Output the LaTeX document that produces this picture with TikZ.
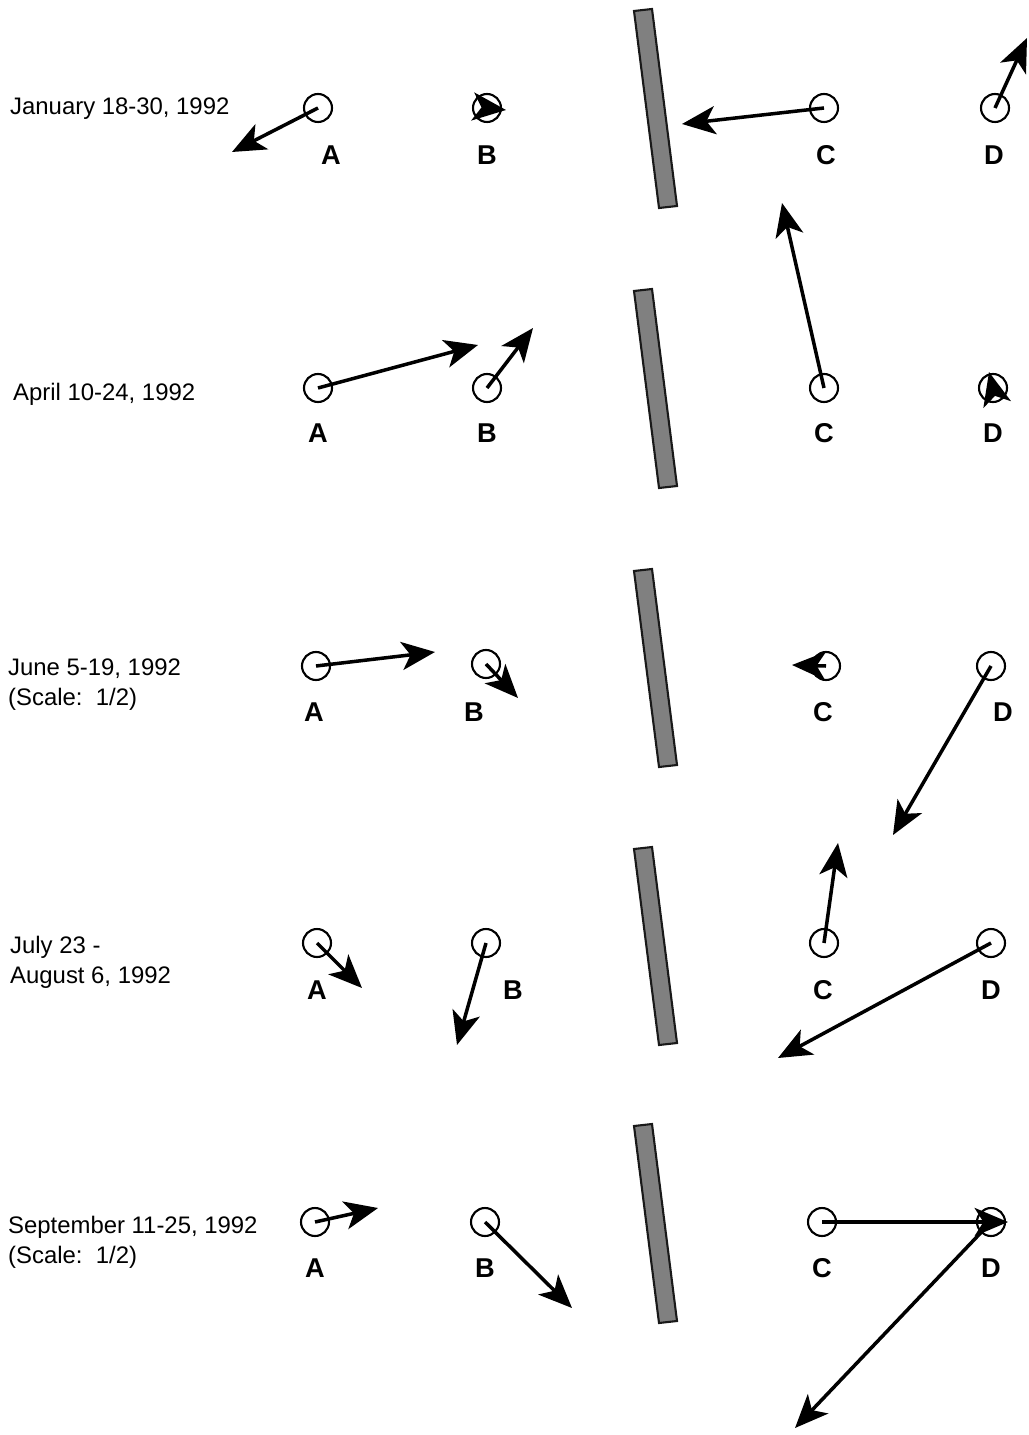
\documentclass[tikz,border=0pt]{standalone}
\usepackage{fontspec}
\setmainfont{Liberation Sans}
\usetikzlibrary{arrows.meta}

\tikzset{
  station/.style={circle, draw, line width=1.2pt, minimum size=0.56cm, inner sep=0pt},
  stname/.style={font=\fontsize{15.5}{17}\selectfont\bfseries},
  datelabel/.style={anchor=west, align=left, font=\fontsize{13.6}{17}\selectfont},
  current/.style={line width=2pt, -{Stealth[length=19pt,width=16pt,inset=5pt]}},
  wall/.style={fill=black!50, draw=black!90, line width=1.2pt}
}

\begin{document}
\begin{tikzpicture}[x=0.02cm, y=-0.02cm]
\useasboundingbox (0,0) rectangle (1028,1435);

% January
\node [datelabel] (t1) at (4,109) {January 18-30, 1992};
\draw [wall] (634,11) -- (652,9) -- (677,206) -- (659,208) -- cycle;
\node [station] (a1) at (318,108) {};
\node [stname] (la1) at (331,155) {A};
\node [station] (b1) at (487,108) {};
\node [stname] (lb1) at (487,155) {B};
\node [station] (c1) at (824,108) {};
\node [stname] (lc1) at (826,155) {C};
\node [station] (d1) at (995,108) {};
\node [stname] (ld1) at (994,155) {D};
\coordinate (a1tip) at (232,152);
\coordinate (b1tip) at (506,110);
\coordinate (c1tip) at (682,124);
\coordinate (d1tip) at (1027,38);
\draw [current] (a1.center) -- (a1tip);
\draw [current] (b1.center) -- (b1tip);
\draw [current] (c1.center) -- (c1tip);
\draw [current] (d1.center) -- (d1tip);

% April
\node [datelabel] (t2) at (7,394) {April 10-24, 1992};
\draw [wall] (634,291) -- (652,289) -- (677,486) -- (659,488) -- cycle;
\node [station] (a2) at (318,388) {};
\node [stname] (la2) at (318,433) {A};
\node [station] (b2) at (487,388) {};
\node [stname] (lb2) at (487,433) {B};
\node [station] (c2) at (824,388) {};
\node [stname] (lc2) at (824,433) {C};
\node [station] (d2) at (993,388) {};
\node [stname] (ld2) at (993,433) {D};
\coordinate (a2tip) at (478,345);
\coordinate (b2tip) at (533,328);
\coordinate (c2tip) at (782,203);
\coordinate (d2tip) at (989,372);
\draw [current] (a2.center) -- (a2tip);
\draw [current] (b2.center) -- (b2tip);
\draw [current] (c2.center) -- (c2tip);
\draw [current] (d2.center) -- (d2tip);

% June
\node [datelabel] (t3) at (2,685) {June 5-19, 1992\\(Scale:~~1/2)};
\draw [wall] (634,571) -- (652,569) -- (677,765) -- (659,767) -- cycle;
\node [station] (a3) at (316,666) {};
\node [stname] (la3) at (314,712) {A};
\node [station] (b3) at (486,664) {};
\node [stname] (lb3) at (474,712) {B};
\node [station] (c3) at (826,666) {};
\node [stname] (lc3) at (823,712) {C};
\node [station] (d3) at (991,666) {};
\node [stname] (ld3) at (1003,712) {D};
\coordinate (a3tip) at (435,652);
\coordinate (b3tip) at (518,698);
\coordinate (c3tip) at (792,665);
\coordinate (d3tip) at (893,835);
\draw [current] (a3.center) -- (a3tip);
\draw [current] (b3.center) -- (b3tip);
\draw [current] (c3.center) -- (c3tip);
\draw [current] (d3.center) -- (d3tip);

% July - August
\node [datelabel] (t4) at (4,962) {July 23 -\\August 6, 1992};
\draw [wall] (634,849) -- (652,847) -- (677,1043) -- (659,1045) -- cycle;
\node [station] (a4) at (317,943) {};
\node [stname] (la4) at (317,990) {A};
\node [station] (b4) at (486,943) {};
\node [stname] (lb4) at (513,990) {B};
\node [station] (c4) at (824,943) {};
\node [stname] (lc4) at (823,990) {C};
\node [station] (d4) at (991,943) {};
\node [stname] (ld4) at (991,990) {D};
\coordinate (a4tip) at (362,988);
\coordinate (b4tip) at (457,1045);
\coordinate (c4tip) at (838,843);
\coordinate (d4tip) at (778,1058);
\draw [current] (a4.center) -- (a4tip);
\draw [current] (b4.center) -- (b4tip);
\draw [current] (c4.center) -- (c4tip);
\draw [current] (d4.center) -- (d4tip);

% September
\node [datelabel] (t5) at (2,1242) {September 11-25, 1992\\(Scale:~~1/2)};
\draw [wall] (634,1126) -- (652,1124) -- (677,1321) -- (659,1323) -- cycle;
\node [station] (a5) at (315,1222) {};
\node [stname] (la5) at (315,1268) {A};
\node [station] (b5) at (485,1222) {};
\node [stname] (lb5) at (485,1268) {B};
\node [station] (c5) at (822,1222) {};
\node [stname] (lc5) at (822,1268) {C};
\node [station] (d5) at (991,1222) {};
\node [stname] (ld5) at (991,1268) {D};
\coordinate (a5tip) at (378,1208);
\coordinate (b5tip) at (572,1308);
\coordinate (c5tip) at (1008,1222);
\coordinate (d5tip) at (795,1428);
\draw [current] (a5.center) -- (a5tip);
\draw [current] (b5.center) -- (b5tip);
\draw [current] (c5.center) -- (c5tip);
\draw [current] (d5.center) -- (d5tip);
\end{tikzpicture}
\end{document}
